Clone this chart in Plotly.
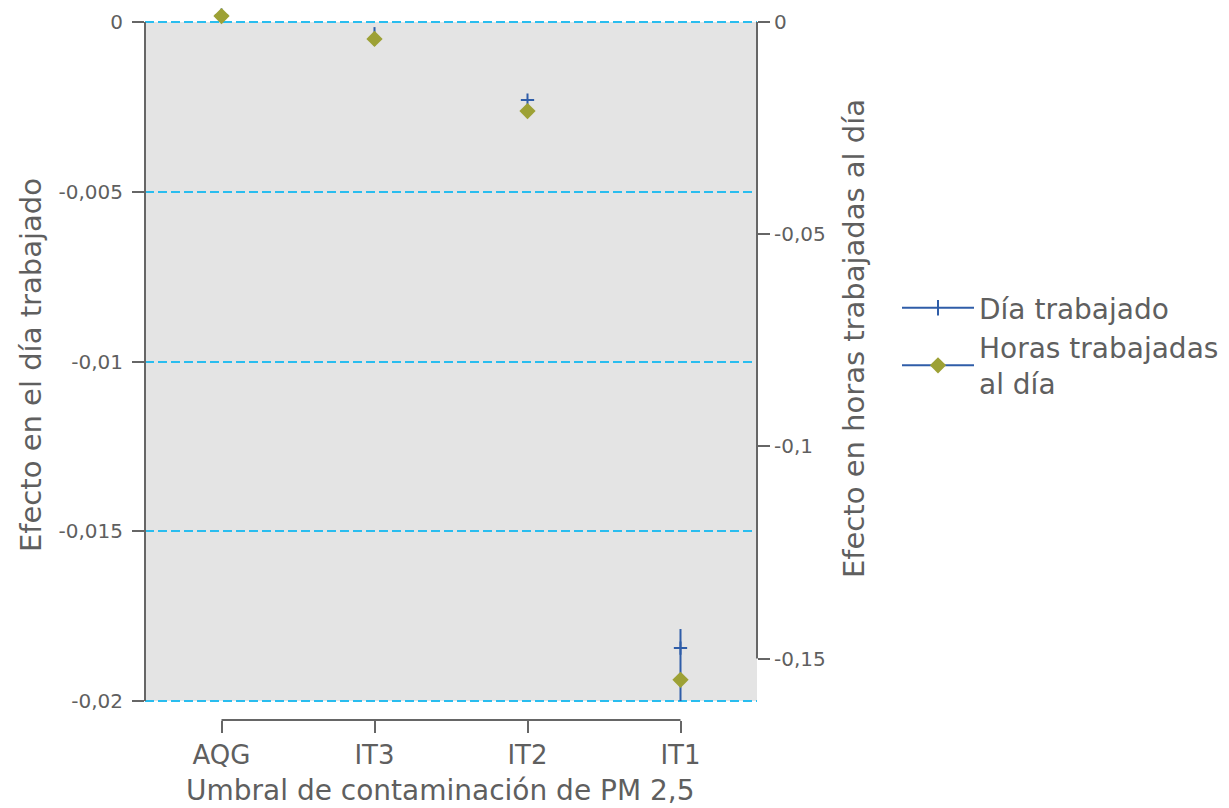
import plotly.graph_objects as go

categories = ["AQG", "IT3", "IT2", "IT1"]
dia_trabajado = [0.0002, -0.0005, -0.0023, -0.01844]
dia_err_plus = [0.0, 0.00035, 0.0, 0.00056]
dia_err_minus = [0.0, 0.0, 0.0, 0.00156]
horas_trabajadas = [0.0014, -0.0040, -0.021, -0.155]

left_tickvals = [0, -0.005, -0.01, -0.015, -0.02]
left_ticktext = ["0", "-0,005", "-0,01", "-0,015", "-0,02"]
right_tickvals = [0, -0.05, -0.1, -0.15]
right_ticktext = ["0", "-0,05", "-0,1", "-0,15"]

x_title = "Umbral de contaminación de PM 2,5"
y_title = "Efecto en el día trabajado"
y2_title = "Efecto en horas trabajadas al día"

BLUE = "#2F5DA8"
OLIVE = "#9DA135"
CYAN = "#29BDEF"
AXIS = "#666666"
TEXT = "#5F5F5F"
BG = "#E4E4E4"
FONT = "DejaVu Sans"

# pixel geometry helpers (layout only)
W, H = 1229, 808
PLOT_LEFT, PLOT_RIGHT = 145, 757
PLOT_TOP = 6        # top of plotting domain (room for points above 0)
ZERO_PX = 22        # where value 0 sits
LOW_PX = 701        # where the lowest left tick sits
EDGE_PX = 703       # bottom of plotting domain
XAXIS_PX = 720      # offset category axis
left_min = left_tickvals[-1]
right_min = -0.16
px_per_left = (LOW_PX - ZERO_PX) / -left_min
px_per_right = (LOW_PX - ZERO_PX) / -right_min
left_range = [left_min - (EDGE_PX - LOW_PX) / px_per_left, (ZERO_PX - PLOT_TOP) / px_per_left]
right_range = [right_min - (EDGE_PX - LOW_PX) / px_per_right, (ZERO_PX - PLOT_TOP) / px_per_right]
plot_h = XAXIS_PX - PLOT_TOP
plot_w = PLOT_RIGHT - PLOT_LEFT
dom_bottom = (XAXIS_PX - EDGE_PX) / plot_h


def px_x(p):
    return (p - PLOT_LEFT) / plot_w


def px_y(p):
    return (XAXIS_PX - p) / plot_h


fig = go.Figure()

fig.add_trace(go.Scatter(
    x=categories, y=dia_trabajado, mode="markers", yaxis="y",
    marker=dict(symbol="cross-thin", size=9.5, color=BLUE,
                line=dict(color=BLUE, width=2)),
    error_y=dict(type="data", symmetric=False, array=dia_err_plus,
                 arrayminus=dia_err_minus, color=BLUE, thickness=2, width=0),
    cliponaxis=False, showlegend=False,
))
fig.add_trace(go.Scatter(
    x=categories, y=horas_trabajadas, mode="markers", yaxis="y2",
    marker=dict(symbol="diamond", size=12.5, color=OLIVE),
    cliponaxis=False, showlegend=False,
))

# legend entries
fig.add_trace(go.Scatter(
    x=[None], y=[None], mode="lines+markers", name="Día trabajado",
    line=dict(color=BLUE, width=2),
    marker=dict(symbol="line-ns", size=11, color=BLUE, line=dict(color=BLUE, width=2)),
))
fig.add_trace(go.Scatter(
    x=[None], y=[None], mode="lines+markers", name="Horas trabajadas<br>al día",
    line=dict(color=BLUE, width=2),
    marker=dict(symbol="diamond", size=12.5, color=OLIVE),
))

# grey plotting background between 0 and the lowest left tick
fig.add_shape(type="rect", xref="paper", yref="y", x0=0, x1=1,
              y0=left_tickvals[-1], y1=left_tickvals[0],
              fillcolor=BG, line=dict(width=0), layer="below")
# left axis line
fig.add_shape(type="line", xref="paper", yref="y", x0=0, x1=0,
              y0=left_tickvals[-1], y1=left_tickvals[0],
              line=dict(color=AXIS, width=2))
# right axis line
fig.add_shape(type="line", xref="paper", yref="y2", x0=1, x1=1,
              y0=right_tickvals[-1], y1=right_tickvals[0],
              line=dict(color=AXIS, width=2))
# offset x-axis baseline spanning the categories
fig.add_shape(type="line", xref="x", yref="paper",
              x0=categories[0], x1=categories[-1], y0=0, y1=0,
              line=dict(color=AXIS, width=2))

# axis titles
fig.add_annotation(text=x_title, xref="paper", yref="paper",
                   x=px_x(440), y=px_y(790), xanchor="center", yanchor="middle",
                   showarrow=False, font=dict(size=28), borderpad=0)
fig.add_annotation(text=y_title, xref="paper", yref="paper",
                   x=px_x(31), y=px_y(365), xanchor="center", yanchor="middle",
                   textangle=-90, showarrow=False, font=dict(size=29))
fig.add_annotation(text=y2_title, xref="paper", yref="paper",
                   x=px_x(854), y=px_y(339), xanchor="center", yanchor="middle",
                   textangle=-90, showarrow=False, font=dict(size=29))

fig.update_layout(
    width=W, height=H,
    margin=dict(l=PLOT_LEFT, r=W - PLOT_RIGHT, t=PLOT_TOP, b=H - XAXIS_PX, autoexpand=False),
    paper_bgcolor="white", plot_bgcolor="rgba(0,0,0,0)",
    font=dict(family=FONT, color=TEXT, size=20),
    xaxis=dict(
        type="category", categoryorder="array", categoryarray=categories,
        range=[-0.5, 3.5], anchor="free", position=0,
        showline=False, showgrid=False, zeroline=False, automargin=False,
        ticks="outside", ticklen=12, tickwidth=2, tickcolor=AXIS,
        tickfont=dict(size=26),
    ),
    yaxis=dict(
        domain=[dom_bottom, 1], range=left_range, anchor="x",
        tickvals=left_tickvals, ticktext=left_ticktext,
        showline=False, automargin=False, ticklabelstandoff=5,
        ticks="outside", ticklen=12, tickwidth=2, tickcolor=AXIS,
        showgrid=True, gridcolor=CYAN, gridwidth=2, griddash="9px,4px",
        zeroline=False,
    ),
    yaxis2=dict(
        overlaying="y", range=right_range, anchor="x", side="right",
        tickvals=right_tickvals, ticktext=right_ticktext,
        showline=False, automargin=False,
        ticks="outside", ticklen=12, tickwidth=2, tickcolor=AXIS,
        showgrid=False, zeroline=False,
    ),
    legend=dict(x=px_x(897), y=0.612, xanchor="left", yanchor="top",
                font=dict(size=28), itemwidth=72, bgcolor="rgba(0,0,0,0)",
                tracegroupgap=0),
)

fig.write_html("out.html", config={"displayModeBar": False},
               post_script="document.body.style.margin='0';")
